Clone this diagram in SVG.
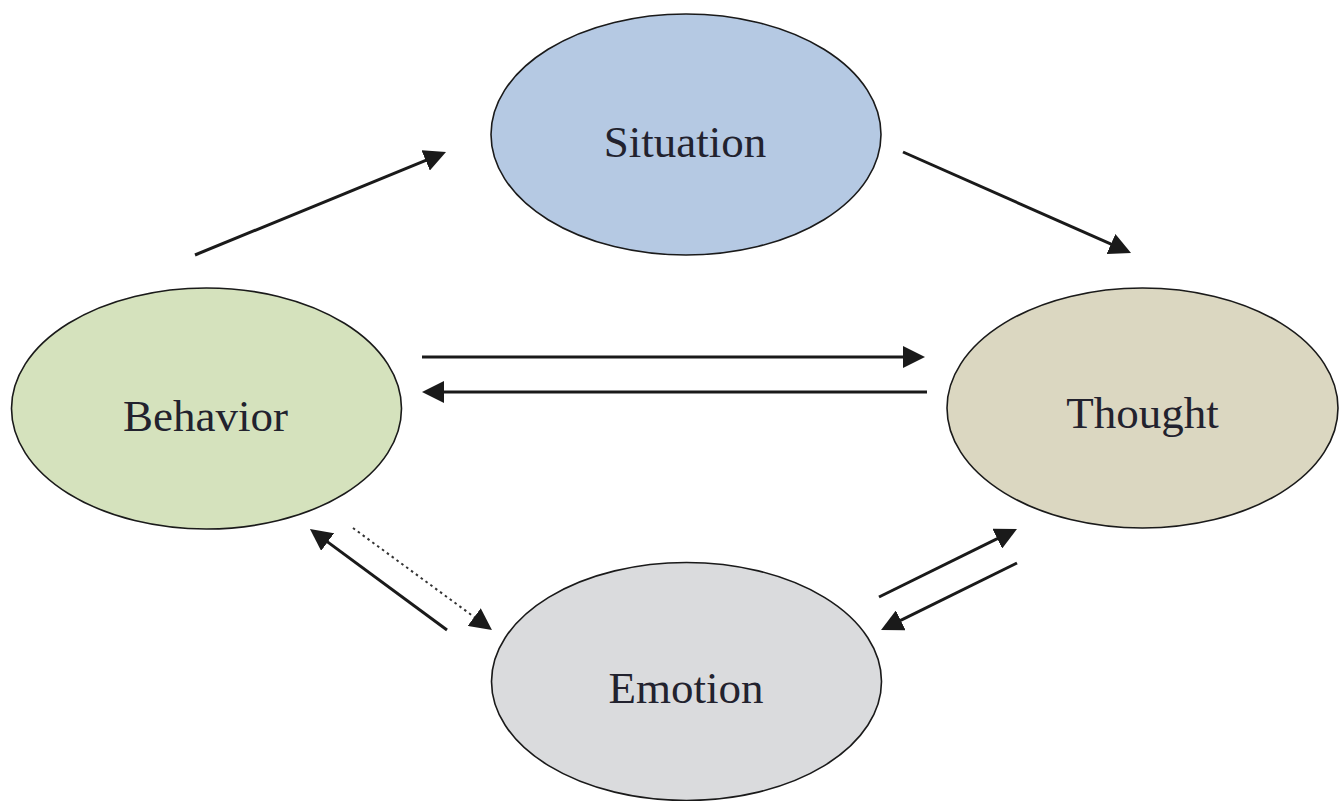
<svg xmlns="http://www.w3.org/2000/svg" width="1341" height="801" viewBox="0 0 1341 801">
  <style>
    .node { stroke: #1a1a1a; stroke-width: 1.6; }
    .label { font-family: "Liberation Serif", "Times New Roman", serif; font-size: 45px; fill: #22222e; text-anchor: middle; }
    .conn { stroke: #1a1a1a; stroke-width: 3; fill: none; marker-end: url(#arrow); }
    .dotted { stroke: #333; stroke-width: 2; stroke-dasharray: 2.5 3.5; fill: none; marker-end: url(#arrow); }
  </style>
  <defs>
    <marker id="arrow" markerUnits="userSpaceOnUse" markerWidth="22" markerHeight="22" viewBox="0 0 22 22" refX="12" refY="11" orient="auto">
      <path d="M0,0 L22,11 L0,22 z" fill="#1a1a1a"/>
    </marker>
  </defs>
  <rect width="1341" height="801" fill="#ffffff"/>
  <g id="situation">
    <ellipse class="node" cx="686" cy="134.5" rx="195" ry="120.5" fill="#b5c9e3"/>
    <text class="label" x="685" y="157">Situation</text>
  </g>
  <g id="behavior">
    <ellipse class="node" cx="206.5" cy="408.5" rx="195" ry="120.5" fill="#d5e2bd"/>
    <text class="label" x="205.5" y="431">Behavior</text>
  </g>
  <g id="thought">
    <ellipse class="node" cx="1142.5" cy="408" rx="195.5" ry="120" fill="#dbd7c1"/>
    <text class="label" x="1142.5" y="428">Thought</text>
  </g>
  <g id="emotion">
    <ellipse class="node" cx="686.5" cy="681.5" rx="195" ry="119" fill="#dadbdd"/>
    <text class="label" x="686" y="703">Emotion</text>
  </g>
  <g id="connectors">
    <line class="conn" x1="195" y1="255" x2="436.75" y2="155.8"/>
    <line class="conn" x1="903" y1="152" x2="1121.9" y2="248.95"/>
    <line class="conn" x1="422" y1="357" x2="915" y2="357"/>
    <line class="conn" x1="927" y1="392" x2="432" y2="392"/>
    <line class="conn" x1="447" y1="630" x2="318" y2="534.9"/>
    <line class="dotted" x1="353" y1="528" x2="483.9" y2="624.1"/>
    <line class="conn" x1="879" y1="597" x2="1008" y2="533.4"/>
    <line class="conn" x1="1017" y1="563" x2="890" y2="625.6"/>
  </g>
</svg>
